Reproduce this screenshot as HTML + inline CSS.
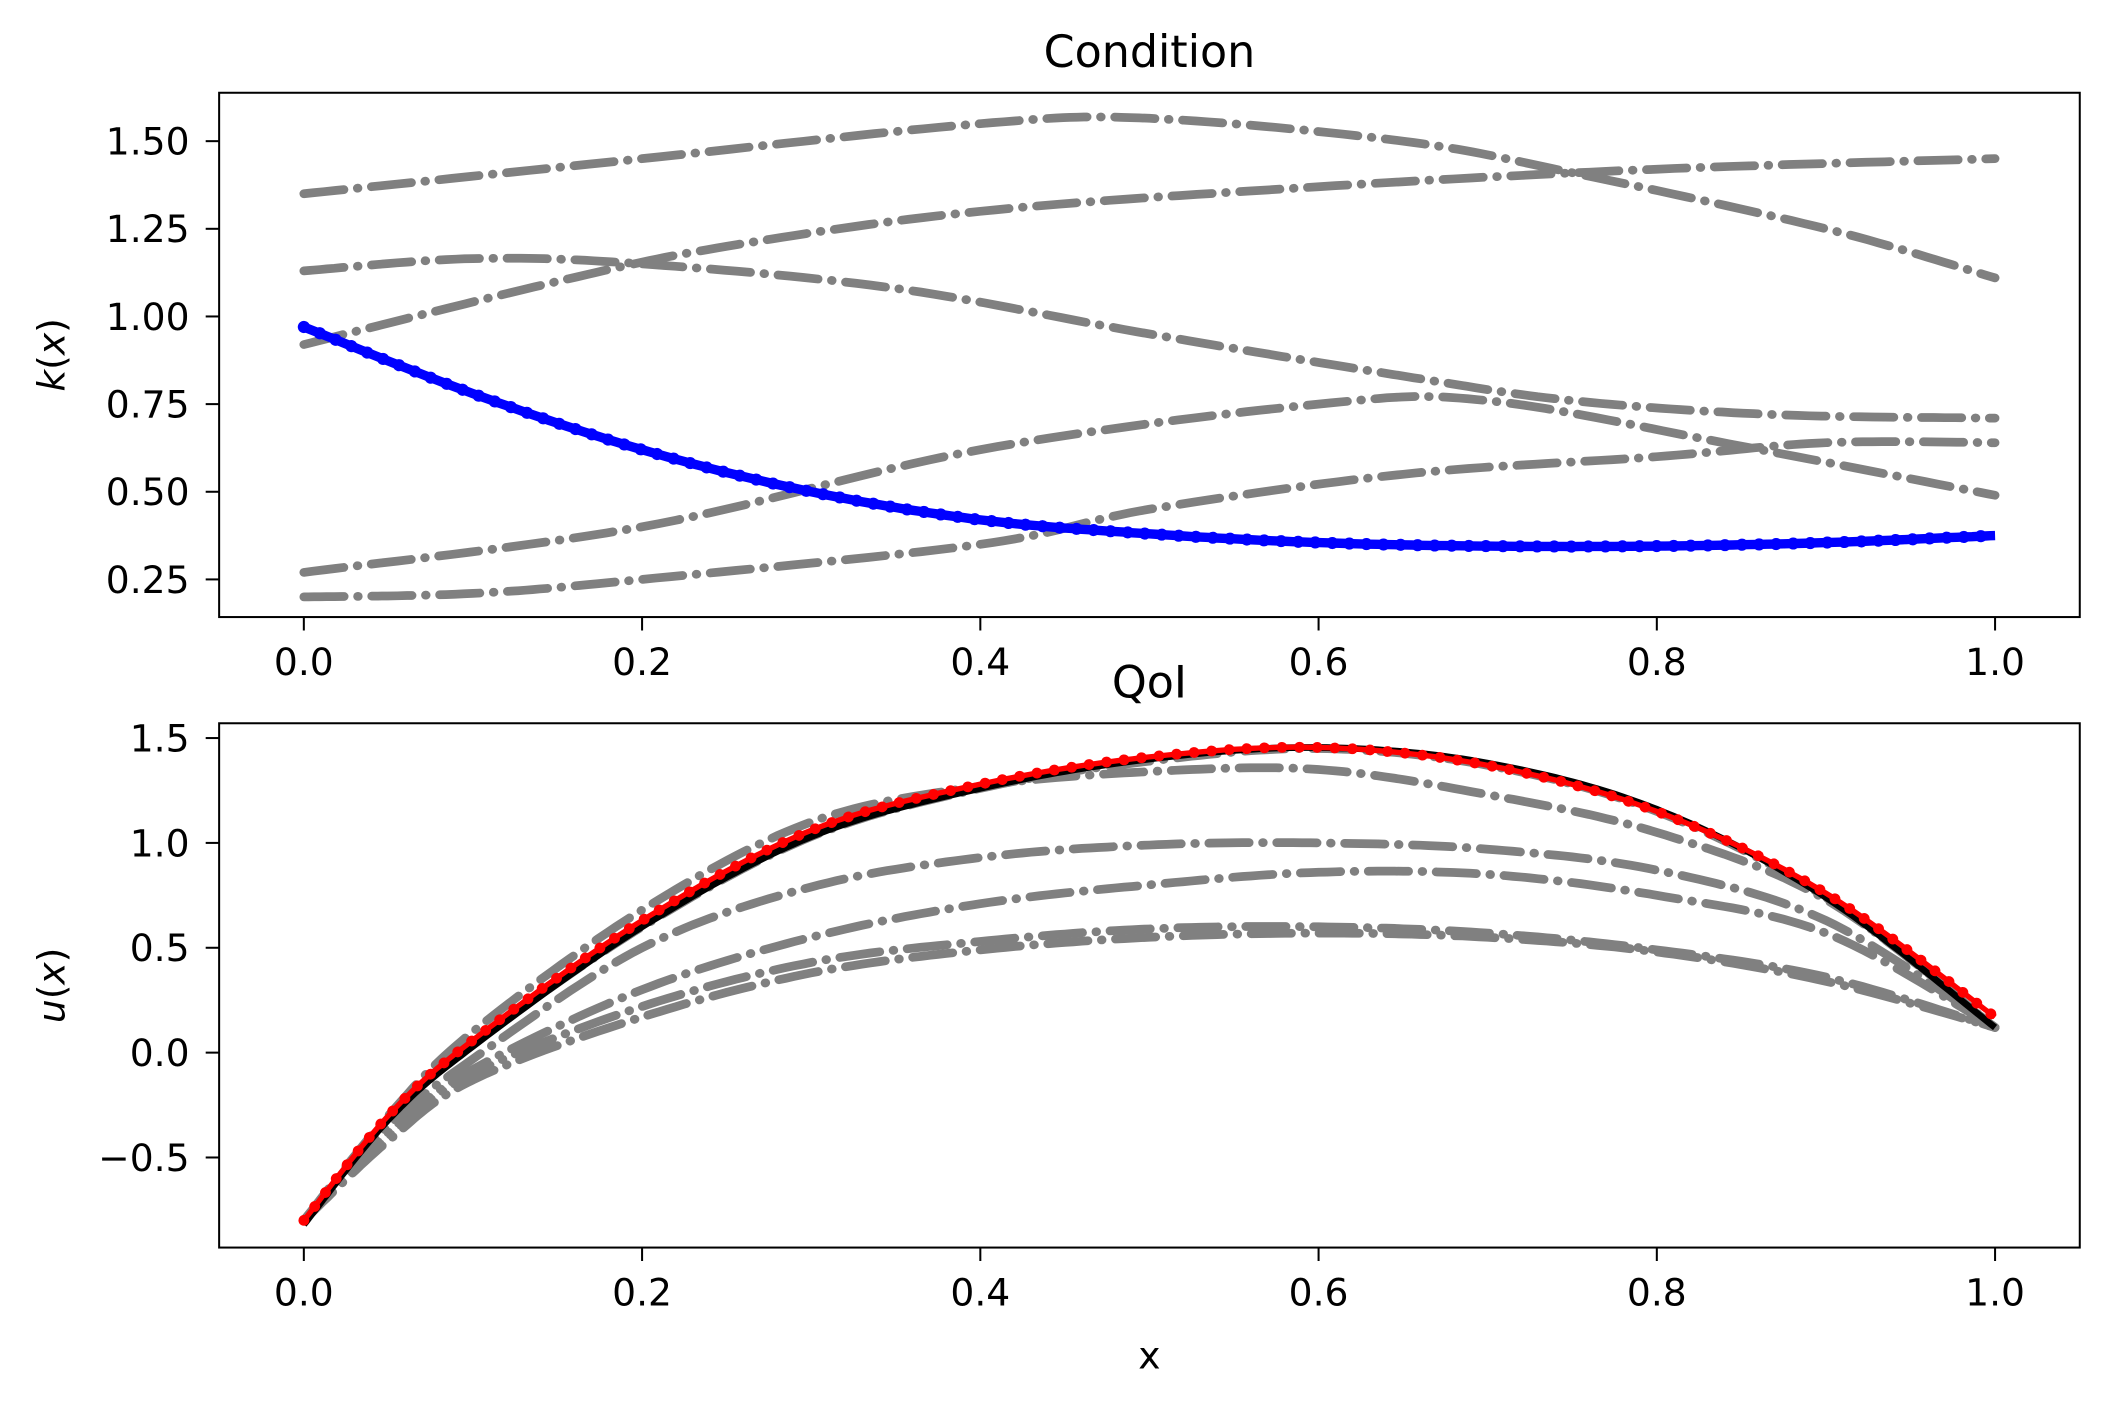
<!DOCTYPE html>
<html><head><meta charset="utf-8"><style>
html,body{margin:0;padding:0;background:#fff}
svg{display:block}
text{font-family:"DejaVu Sans","Liberation Sans",sans-serif;fill:#000}
</style></head><body>
<svg id="plotsvg" width="2108" height="1407" viewBox="0 0 1568 1046.6" preserveAspectRatio="none" xmlns="http://www.w3.org/2000/svg">
<rect width="1568" height="1047" fill="#fff"/>
<g id="plotg"></g>
</svg>
<script>
(function(){
var G=document.getElementById('plotg');
var out='';
function X(v){return 226+1258*v;}
function Yt(v){return 431-(v-0.25)*260.8;}
function Yb(v){return 861-(v+0.5)*156;}
function spline(pts,Y){
  var res=[];
  for(var i=0;i<pts.length-1;i++){
    var p0=pts[Math.max(i-1,0)],p1=pts[i],p2=pts[i+1],p3=pts[Math.min(i+2,pts.length-1)];
    for(var k=0;k<20;k++){
      var t=k/20,t2=t*t,t3=t2*t;
      var f=function(a,b,c,d){return 0.5*((2*b)+(-a+c)*t+(2*a-5*b+4*c-d)*t2+(-a+3*b-3*c+d)*t3);};
      res.push([f(p0[0],p1[0],p2[0],p3[0]),f(p0[1],p1[1],p2[1],p3[1])]);
    }
  }
  res.push(pts[pts.length-1]);
  return 'M'+res.map(function(p){return X(p[0]).toFixed(1)+','+Y(p[1]).toFixed(1);}).join(' L');
}
var gray='stroke="#808080" stroke-width="6.5" fill="none" stroke-dasharray="30,10,0.5,10" stroke-linecap="round"';
out+='<defs><clipPath id="c1"><rect x="163" y="69" width="1384" height="390"/></clipPath><clipPath id="c2"><rect x="163" y="538" width="1384" height="390"/></clipPath></defs>';
out+='<g clip-path="url(#c1)">';
var topCurves=[
[[0,1.35],[0.2,1.45],[0.4,1.55],[0.5,1.565],[0.65,1.5],[0.75,1.41],[0.9,1.25],[1,1.11]],
[[0,0.92],[0.15,1.1],[0.25,1.2],[0.4,1.3],[0.6,1.37],[0.8,1.42],[1,1.45]],
[[0,1.13],[0.1,1.165],[0.2,1.15],[0.35,1.08],[0.5,0.95],[0.65,0.83],[0.75,0.76],[0.87,0.72],[1,0.71]],
[[0,0.27],[0.2,0.4],[0.4,0.62],[0.6,0.75],[0.7,0.76],[0.85,0.63],[1,0.49]],
[[0,0.2],[0.1,0.21],[0.2,0.25],[0.4,0.35],[0.5,0.45],[0.65,0.55],[0.8,0.6],[0.9,0.64],[1,0.64]]];
topCurves.forEach(function(p){out+='<path d="'+spline(p,Yt)+'" '+gray+'/>';});
var blue=[[0,0.97],[0.1,0.78],[0.2,0.62],[0.3,0.5],[0.4,0.42],[0.5,0.38],[0.6,0.355],[0.7,0.345],[0.8,0.345],[0.9,0.355],[1,0.375]];
out+='<path d="'+spline(blue,Yt)+'" stroke="#0000ff" stroke-width="7" fill="none"/>';
out+='<path d="'+spline(blue,Yt)+'" stroke="#0000ff" stroke-width="9" fill="none" stroke-dasharray="0.1,12.6" stroke-linecap="round"/>';
out+='</g>';
out+='<g clip-path="url(#c2)">';
var bot=[
[[0,-0.8],[0.05,-0.3],[0.1,0.1],[0.2,0.68],[0.3,1.1],[0.4,1.27],[0.5,1.34],[0.6,1.35],[0.7,1.23],[0.8,1.05],[0.9,0.73],[1,0.12]],
[[0,-0.8],[0.05,-0.35],[0.1,-0.03],[0.2,0.5],[0.3,0.79],[0.4,0.93],[0.5,0.99],[0.6,1.0],[0.7,0.97],[0.8,0.87],[0.9,0.63],[1,0.12]],
[[0,-0.8],[0.05,-0.38],[0.1,-0.08],[0.2,0.3],[0.3,0.55],[0.4,0.71],[0.5,0.8],[0.6,0.86],[0.7,0.85],[0.8,0.75],[0.9,0.57],[1,0.12]],
[[0,-0.8],[0.05,-0.4],[0.1,-0.1],[0.2,0.22],[0.3,0.43],[0.4,0.53],[0.5,0.59],[0.6,0.6],[0.7,0.57],[0.8,0.49],[0.9,0.36],[1,0.12]],
[[0,-0.8],[0.05,-0.42],[0.1,-0.13],[0.2,0.17],[0.3,0.38],[0.4,0.49],[0.5,0.55],[0.6,0.57],[0.7,0.55],[0.8,0.48],[0.9,0.34],[1,0.12]],
[[0,-0.8],[0.05,-0.32],[0.1,0.04],[0.2,0.6],[0.3,1.03],[0.4,1.26],[0.5,1.39],[0.6,1.45],[0.7,1.37],[0.8,1.15],[0.9,0.74],[1,0.12]]];
bot.forEach(function(p){out+='<path d="'+spline(p,Yb)+'" '+gray+'/>';});
var black=[[0,-0.82],[0.05,-0.32],[0.1,0.03],[0.2,0.6],[0.3,1.03],[0.4,1.26],[0.5,1.4],[0.6,1.455],[0.7,1.38],[0.8,1.16],[0.9,0.74],[1,0.12]];
out+='<path d="'+spline(black,Yb)+'" stroke="#000" stroke-width="5" fill="none"/>';
var red=[[0,-0.8],[0.05,-0.3],[0.1,0.06],[0.2,0.63],[0.3,1.06],[0.4,1.28],[0.5,1.41],[0.6,1.455],[0.7,1.37],[0.8,1.15],[0.9,0.76],[1,0.17]];
var rd=spline(red,Yb);
out+='<path d="'+rd+'" stroke="#ff0000" stroke-width="4" fill="none"/>';
out+='<path d="'+rd+'" stroke="#ff0000" stroke-width="8" fill="none" stroke-dasharray="0.1,13" stroke-linecap="round"/>';
out+='</g>';
out+='<rect x="163" y="69" width="1384" height="390" fill="none" stroke="#000" stroke-width="1.5"/>';
out+='<rect x="163" y="538" width="1384" height="390" fill="none" stroke="#000" stroke-width="1.5"/>';
[0,0.2,0.4,0.6,0.8,1].forEach(function(v){
  var x=X(v);
  [[459,502],[928,971]].forEach(function(a){
    out+='<line x1="'+x+'" y1="'+a[0]+'" x2="'+x+'" y2="'+(a[0]+10)+'" stroke="#000" stroke-width="1.5"/>';
    out+='<text x="'+x+'" y="'+a[1]+'" font-size="28" text-anchor="middle">'+v.toFixed(1)+'</text>';
  });
});
[0.25,0.5,0.75,1,1.25,1.5].forEach(function(v){
  var y=Yt(v);
  out+='<line x1="153" y1="'+y+'" x2="163" y2="'+y+'" stroke="#000" stroke-width="1.5"/>';
  out+='<text x="141" y="'+(y+10)+'" font-size="28" text-anchor="end">'+v.toFixed(2)+'</text>';
});
[-0.5,0,0.5,1,1.5].forEach(function(v){
  var y=Yb(v);
  out+='<line x1="153" y1="'+y+'" x2="163" y2="'+y+'" stroke="#000" stroke-width="1.5"/>';
  out+='<text x="141" y="'+(y+10)+'" font-size="28" text-anchor="end">'+(v<0?'\u2212'+(-v).toFixed(1):v.toFixed(1))+'</text>';
});
out+='<text x="855" y="50" font-size="33" text-anchor="middle">Condition</text>';
out+='<text x="855" y="519" font-size="33" text-anchor="middle">QoI</text>';
out+='<text x="855" y="1018" font-size="28" text-anchor="middle">x</text>';
out+='<text transform="translate(48,264) rotate(-90)" font-size="28" text-anchor="middle"><tspan font-style="italic">k</tspan>(<tspan font-style="italic">x</tspan>)</text>';
out+='<text transform="translate(48,733) rotate(-90)" font-size="28" text-anchor="middle"><tspan font-style="italic">u</tspan>(<tspan font-style="italic">x</tspan>)</text>';
G.innerHTML=out;
})();
</script>
</body></html>
